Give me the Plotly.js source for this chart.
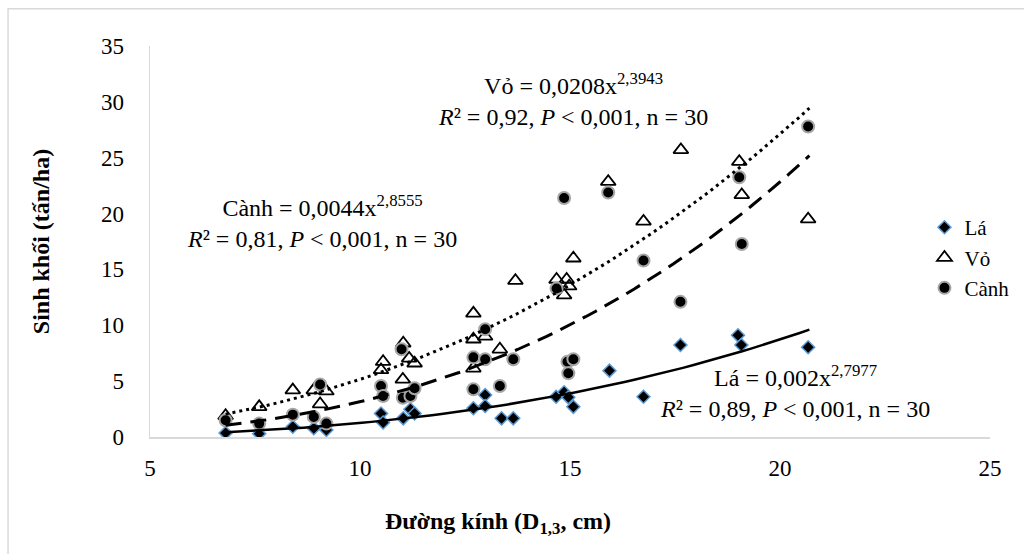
<!DOCTYPE html>
<html>
<head>
<meta charset="utf-8">
<script src="https://cdn.plot.ly/plotly-3.0.1.min.js"></script>
<style>
  html, body { margin: 0; padding: 0; background: #fff; }
  #chart { width: 1024px; height: 554px; }
</style>
</head>
<body>
<div id="chart"></div>
<script>
// ---- Data ----
const laX   = [6.8, 7.6, 8.4, 8.9, 9.2, 10.5, 10.55, 11.03, 11.2, 11.3, 12.7, 12.98, 12.98, 13.37, 13.65, 14.67, 14.86, 14.96, 15.08, 15.94, 16.75, 17.63, 19.0, 19.08, 20.67];
const laY   = [0.35, 0.3, 0.92, 0.78, 0.63, 2.1, 1.3, 1.67, 2.48, 2.1, 2.57, 3.76, 2.77, 1.67, 1.67, 3.6, 4.0, 3.55, 2.7, 5.94, 3.6, 8.24, 9.1, 8.24, 8.03];

const voX   = [6.8, 7.6, 8.4, 8.9, 9.05, 9.2, 10.5, 10.55, 11.02, 11.03, 11.17, 11.3, 12.7, 12.7, 12.7, 12.98, 13.33, 13.7, 14.68, 14.92, 14.98, 14.86, 15.08, 15.91, 16.75, 17.64, 19.03, 19.09, 20.67];
const voY   = [1.9, 2.7, 4.2, 4.2, 2.95, 4.1, 6.0, 6.74, 5.16, 8.39, 7.04, 6.6, 11.07, 8.75, 6.15, 9.0, 7.85, 14.0, 14.1, 14.1, 13.5, 12.7, 16.0, 22.86, 19.3, 25.7, 24.65, 21.67, 19.5];

const canhX = [6.8, 7.6, 8.4, 8.9, 9.05, 9.2, 10.99, 10.5, 10.55, 11.02, 11.2, 11.3, 12.7, 12.7, 12.98, 12.98, 13.33, 13.65, 14.68, 14.86, 14.94, 15.08, 14.96, 15.91, 16.75, 17.63, 19.03, 19.09, 20.67];
const canhY = [1.5, 1.2, 2.0, 1.8, 4.7, 1.2, 7.85, 4.57, 3.67, 3.52, 3.67, 4.36, 4.27, 7.13, 6.96, 9.64, 4.57, 6.96, 13.3, 21.4, 6.74, 6.96, 5.7, 21.88, 15.8, 12.1, 23.25, 17.28, 27.8];

// Fitted power equations shown on the chart: y = a * x^b
const laFit   = { a: 0.002,  b: 2.7977 };
const voFit   = { a: 0.0208, b: 2.3943 };
const canhFit = { a: 0.0044, b: 2.8555 };
const fitRange = [6.8, 20.7];

const seriesNames = ['Lá', 'Vỏ', 'Cành'];
const xTicks = [5, 10, 15, 20, 25];
const yTicks = [0, 5, 10, 15, 20, 25, 30, 35];

function curve(fit) {
  const xs = [], ys = [];
  const n = 60;
  for (let i = 0; i <= n; i++) {
    const x = fitRange[0] + (fitRange[1] - fitRange[0]) * i / n;
    xs.push(x);
    ys.push(fit.a * Math.pow(x, fit.b));
  }
  return { xs, ys };
}

const FONT = 'Liberation Serif, Times New Roman, serif';

const cLa = curve(laFit), cVo = curve(voFit), cCanh = curve(canhFit);

const traces = [
  { type: 'scatter', mode: 'markers', name: seriesNames[0], x: laX, y: laY,
    marker: { symbol: 'diamond', size: 10, color: '#000', line: { color: '#5b9bd5', width: 1.5 } } },
  { type: 'scatter', mode: 'markers', name: seriesNames[1], x: voX, y: voY,
    marker: { symbol: 'triangle-up-open', size: 13, color: '#000', line: { color: '#000', width: 1.8 } } },
  { type: 'scatter', mode: 'markers', name: seriesNames[2], x: canhX, y: canhY,
    marker: { symbol: 'circle', size: 12, color: '#000', line: { color: '#a6a6a6', width: 2 } } },
  { type: 'scatter', mode: 'lines', x: cLa.xs, y: cLa.ys, showlegend: false, hoverinfo: 'skip',
    line: { color: '#000', width: 2.5 } },
  { type: 'scatter', mode: 'lines', x: cVo.xs, y: cVo.ys, showlegend: false, hoverinfo: 'skip',
    line: { color: '#000', width: 3, dash: '3px,4px' } },
  { type: 'scatter', mode: 'lines', x: cCanh.xs, y: cCanh.ys, showlegend: false, hoverinfo: 'skip',
    line: { color: '#000', width: 3, dash: '16px,9px' } }
];

const annFont = { family: FONT, size: 24, color: '#000' };

const layout = {
  width: 1024, height: 554,
  margin: { l: 150, r: 34, t: 46, b: 117, autoexpand: false },
  paper_bgcolor: '#fff', plot_bgcolor: '#fff',
  font: { family: FONT, size: 23, color: '#000' },
  showlegend: true,
  legend: { x: 0.922, y: 0.588, xanchor: 'left', yanchor: 'top',
            font: { family: FONT, size: 21, color: '#000' }, bgcolor: 'rgba(0,0,0,0)', tracegroupgap: 0 },
  xaxis: {
    range: [5, 25], tickvals: xTicks, ticktext: xTicks.map(String),
    showgrid: false, zeroline: false, showline: true, linecolor: '#d9d9d9', linewidth: 1.5,
    ticks: '', ticklabelstandoff: 10,
    tickfont: { family: FONT, size: 23, color: '#000' }
  },
  yaxis: {
    range: [0, 35], tickvals: yTicks, ticktext: yTicks.map(String),
    showgrid: false, zeroline: false, showline: true, linecolor: '#d9d9d9', linewidth: 1.5,
    ticks: '', ticklabelstandoff: 20,
    tickfont: { family: FONT, size: 23, color: '#000' },
    title: { text: '<b>Sinh khối (tấn/ha)</b>', font: { family: FONT, size: 24, color: '#000' }, standoff: 44 }
  },
  shapes: [
    { type: 'rect', xref: 'paper', yref: 'paper', x0: -0.169, x1: 1.05, y0: -0.4, y1: 1.095,
      line: { color: '#d9d9d9', width: 1.5 }, fillcolor: 'rgba(0,0,0,0)', layer: 'below' }
  ],
  annotations: [
    { xref: 'paper', yref: 'paper', x: 0.414, y: -0.22, showarrow: false, xanchor: 'center', yanchor: 'middle',
      text: '<b>Đường kính (D<sub>1,3</sub>, cm)</b>', font: { family: FONT, size: 24, color: '#000' } },
    { xref: 'x', yref: 'y', x: 15.07, y: 30.17, showarrow: false, align: 'center', xanchor: 'center', yanchor: 'middle',
      text: 'Vỏ = 0,0208x<sup>2,3943</sup><br><i>R</i>² = 0,92, <i>P</i> &lt; 0,001, n = 30', font: annFont },
    { xref: 'x', yref: 'y', x: 9.1, y: 19.25, showarrow: false, align: 'center', xanchor: 'center', yanchor: 'middle',
      text: 'Cành = 0,0044x<sup>2,8555</sup><br><i>R</i>² = 0,81, <i>P</i> &lt; 0,001, n = 30', font: annFont },
    { xref: 'x', yref: 'y', x: 20.36, y: 4.03, showarrow: false, align: 'center', xanchor: 'center', yanchor: 'middle',
      text: 'Lá = 0,002x<sup>2,7977</sup><br><i>R</i>² = 0,89, <i>P</i> &lt; 0,001, n = 30', font: annFont }
  ]
};

Plotly.newPlot('chart', traces, layout, { displayModeBar: false, staticPlot: true });
</script>
</body>
</html>
